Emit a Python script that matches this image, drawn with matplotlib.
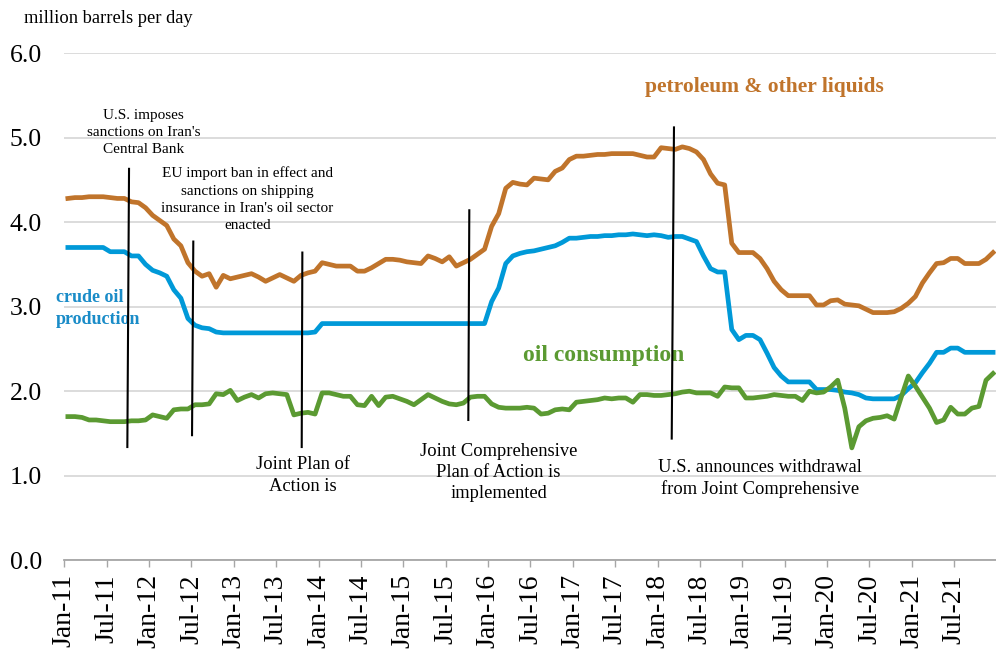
import numpy as np
import matplotlib
matplotlib.use('Agg')
import matplotlib.pyplot as plt

plt.rcParams['font.family'] = ['Liberation Serif', 'DejaVu Serif']

# monthly data, Jan 2011 - Dec 2021 (million barrels per day)
petroleum = [
    4.28, 4.29, 4.29, 4.30, 4.30, 4.30, 4.29, 4.28, 4.28, 4.24, 4.23, 4.17,  # 2011
    4.08, 4.02, 3.96, 3.80, 3.72, 3.52, 3.42, 3.36, 3.39, 3.23, 3.37, 3.33,  # 2012
    3.35, 3.37, 3.39, 3.35, 3.30, 3.34, 3.38, 3.34, 3.30, 3.37, 3.40, 3.42,  # 2013
    3.52, 3.50, 3.48, 3.48, 3.48, 3.42, 3.42, 3.46, 3.51, 3.56, 3.56, 3.55,  # 2014
    3.53, 3.52, 3.51, 3.60, 3.57, 3.53, 3.59, 3.48, 3.52, 3.56, 3.62, 3.68,  # 2015
    3.95, 4.10, 4.40, 4.47, 4.45, 4.44, 4.52, 4.51, 4.50, 4.60, 4.64, 4.74,  # 2016
    4.78, 4.78, 4.79, 4.80, 4.80, 4.81, 4.81, 4.81, 4.81, 4.79, 4.77, 4.77,  # 2017
    4.88, 4.87, 4.86, 4.89, 4.87, 4.83, 4.74, 4.57, 4.46, 4.44, 3.75, 3.64,  # 2018
    3.64, 3.64, 3.57, 3.45, 3.30, 3.20, 3.13, 3.13, 3.13, 3.13, 3.02, 3.02,  # 2019
    3.07, 3.08, 3.03, 3.02, 3.01, 2.97, 2.93, 2.93, 2.93, 2.94, 2.98, 3.04,  # 2020
    3.12, 3.28, 3.40, 3.51, 3.52, 3.57, 3.57, 3.51, 3.51, 3.51, 3.56, 3.64,  # 2021
]
crude = [
    3.70, 3.70, 3.70, 3.70, 3.70, 3.70, 3.65, 3.65, 3.65, 3.60, 3.60, 3.50,
    3.43, 3.40, 3.36, 3.20, 3.10, 2.86, 2.78, 2.75, 2.74, 2.70, 2.69, 2.69,
    2.69, 2.69, 2.69, 2.69, 2.69, 2.69, 2.69, 2.69, 2.69, 2.69, 2.69, 2.70,
    2.80, 2.80, 2.80, 2.80, 2.80, 2.80, 2.80, 2.80, 2.80, 2.80, 2.80, 2.80,
    2.80, 2.80, 2.80, 2.80, 2.80, 2.80, 2.80, 2.80, 2.80, 2.80, 2.80, 2.80,
    3.06, 3.22, 3.51, 3.60, 3.63, 3.65, 3.66, 3.68, 3.70, 3.72, 3.76, 3.81,
    3.81, 3.82, 3.83, 3.83, 3.84, 3.84, 3.85, 3.85, 3.86, 3.85, 3.84, 3.85,
    3.84, 3.82, 3.83, 3.83, 3.80, 3.77, 3.60, 3.45, 3.41, 3.41, 2.73, 2.61,
    2.66, 2.66, 2.61, 2.45, 2.28, 2.18, 2.11, 2.11, 2.11, 2.11, 2.02, 2.02,
    2.02, 2.01, 1.99, 1.98, 1.96, 1.92, 1.91, 1.91, 1.91, 1.91, 1.95, 2.03,
    2.10, 2.22, 2.33, 2.46, 2.46, 2.51, 2.51, 2.46, 2.46, 2.46, 2.46, 2.46,
]
consumption = [
    1.70, 1.70, 1.69, 1.66, 1.66, 1.65, 1.64, 1.64, 1.64, 1.65, 1.65, 1.66,
    1.72, 1.70, 1.68, 1.78, 1.79, 1.79, 1.84, 1.84, 1.85, 1.97, 1.96, 2.01,
    1.89, 1.93, 1.96, 1.92, 1.97, 1.98, 1.97, 1.96, 1.72, 1.74, 1.75, 1.73,
    1.98, 1.98, 1.96, 1.94, 1.94, 1.84, 1.83, 1.94, 1.83, 1.93, 1.94, 1.91,
    1.88, 1.84, 1.90, 1.96, 1.92, 1.88, 1.85, 1.84, 1.86, 1.93, 1.94, 1.94,
    1.85, 1.81, 1.80, 1.80, 1.80, 1.81, 1.80, 1.73, 1.74, 1.78, 1.79, 1.78,
    1.87, 1.88, 1.89, 1.90, 1.92, 1.91, 1.92, 1.92, 1.87, 1.96, 1.96, 1.95,
    1.95, 1.96, 1.97, 1.99, 2.00, 1.98, 1.98, 1.98, 1.94, 2.05, 2.04, 2.04,
    1.92, 1.92, 1.93, 1.94, 1.96, 1.95, 1.94, 1.94, 1.89, 2.00, 1.98, 1.99,
    2.05, 2.13, 1.80, 1.33, 1.58, 1.65, 1.68, 1.69, 1.71, 1.67, 1.93, 2.18,
    2.06, 1.93, 1.80, 1.63, 1.66, 1.81, 1.73, 1.73, 1.80, 1.82, 2.13, 2.21,
]

tick_labels = []
for yr in range(11, 22):
    tick_labels += ['Jan-%d' % yr, 'Jul-%d' % yr]

# event annotations: month offset from Jan-11 (top, bottom), value range (top, bottom)
event_text = [
    "U.S. imposes\nsanctions on Iran's\nCentral Bank",
    "EU import ban in effect and\nsanctions on shipping\ninsurance in Iran's oil sector\nenacted",
    "Joint Plan of\nAction is",
    "Joint Comprehensive\nPlan of Action is\nimplemented",
    "U.S. announces withdrawal\nfrom Joint Comprehensive",
]
event_x_top = [9.16, 18.26, 33.70, 57.34, 86.32]
event_x_bot = [8.92, 18.08, 33.61, 57.20, 86.00]
event_y_top = [4.63, 3.77, 3.64, 4.14, 5.12]
event_y_bot = [1.34, 1.48, 1.34, 1.66, 1.44]

c_orange = '#c0742b'
c_blue = '#0099d8'
c_green = '#5b9a32'

fig = plt.figure(figsize=(9.96, 6.52), dpi=100)
ax = fig.add_axes([0.0646, 0.1406, 0.936, 0.7781])

x = np.arange(len(petroleum)) + 0.5
ax.plot(x, petroleum, color=c_orange, lw=3.4, solid_joinstyle='round', zorder=3)
ax.plot(x, crude, color=c_blue, lw=3.4, solid_joinstyle='round', zorder=3)
ax.plot(x, consumption, color=c_green, lw=3.4, solid_joinstyle='round', zorder=3)

for i in range(len(event_text)):
    ax.plot([event_x_top[i], event_x_bot[i]], [event_y_top[i], event_y_bot[i]],
            color='black', lw=1.5, zorder=4)

ax.text(11.18, 5.06, event_text[0], ha='center', va='center', fontsize=11,
        linespacing=1.42)
ax.text(25.91, 4.27, event_text[1], ha='center', va='center', fontsize=11,
        linespacing=1.42)
ax.text(33.77, 1.00, event_text[2], ha='center', va='center', fontsize=13.3,
        linespacing=1.37)
ax.text(61.48, 1.04, event_text[3], ha='center', va='center', fontsize=13.3,
        linespacing=1.28)
ax.text(98.5, 0.97, event_text[4], ha='center', va='center', fontsize=13.3,
        linespacing=1.26)

ax.text(99.1, 5.60, 'petroleum & other liquids', ha='center', va='center',
        fontsize=15.5, fontweight='bold', color=c_orange)
ax.text(76.4, 2.42, 'oil consumption', ha='center', va='center',
        fontsize=17, fontweight='bold', color=c_green)
ax.text(-1.2, 2.98, 'crude oil\nproduction', ha='left', va='center',
        fontsize=13, fontweight='bold', color='#1a8cc8', linespacing=1.38)

fig.text(0.024, 0.972, 'million barrels per day', ha='left', va='center',
         fontsize=13.3)

ax.set_xlim(0, 132)
ax.set_ylim(0, 6)
ax.set_yticks(np.arange(0, 7, 1.0))
ax.set_yticklabels(['%.1f' % v for v in np.arange(0, 7, 1.0)], fontsize=18.5)
ax.set_xticks(np.arange(0, 132, 6))
ax.set_xticklabels(tick_labels, rotation=90, fontsize=20)
ax.tick_params(axis='y', length=0, pad=16)
ax.tick_params(axis='x', length=5, width=1, color='#a6a6a6', pad=5)

ax.grid(axis='y', color='#d9d9d9', lw=1.3)
ax.set_axisbelow(True)
for s in ['top', 'right', 'left']:
    ax.spines[s].set_visible(False)
ax.spines['bottom'].set_color('#a6a6a6')
ax.spines['bottom'].set_linewidth(1.3)

fig.savefig('out.png', dpi=100)
